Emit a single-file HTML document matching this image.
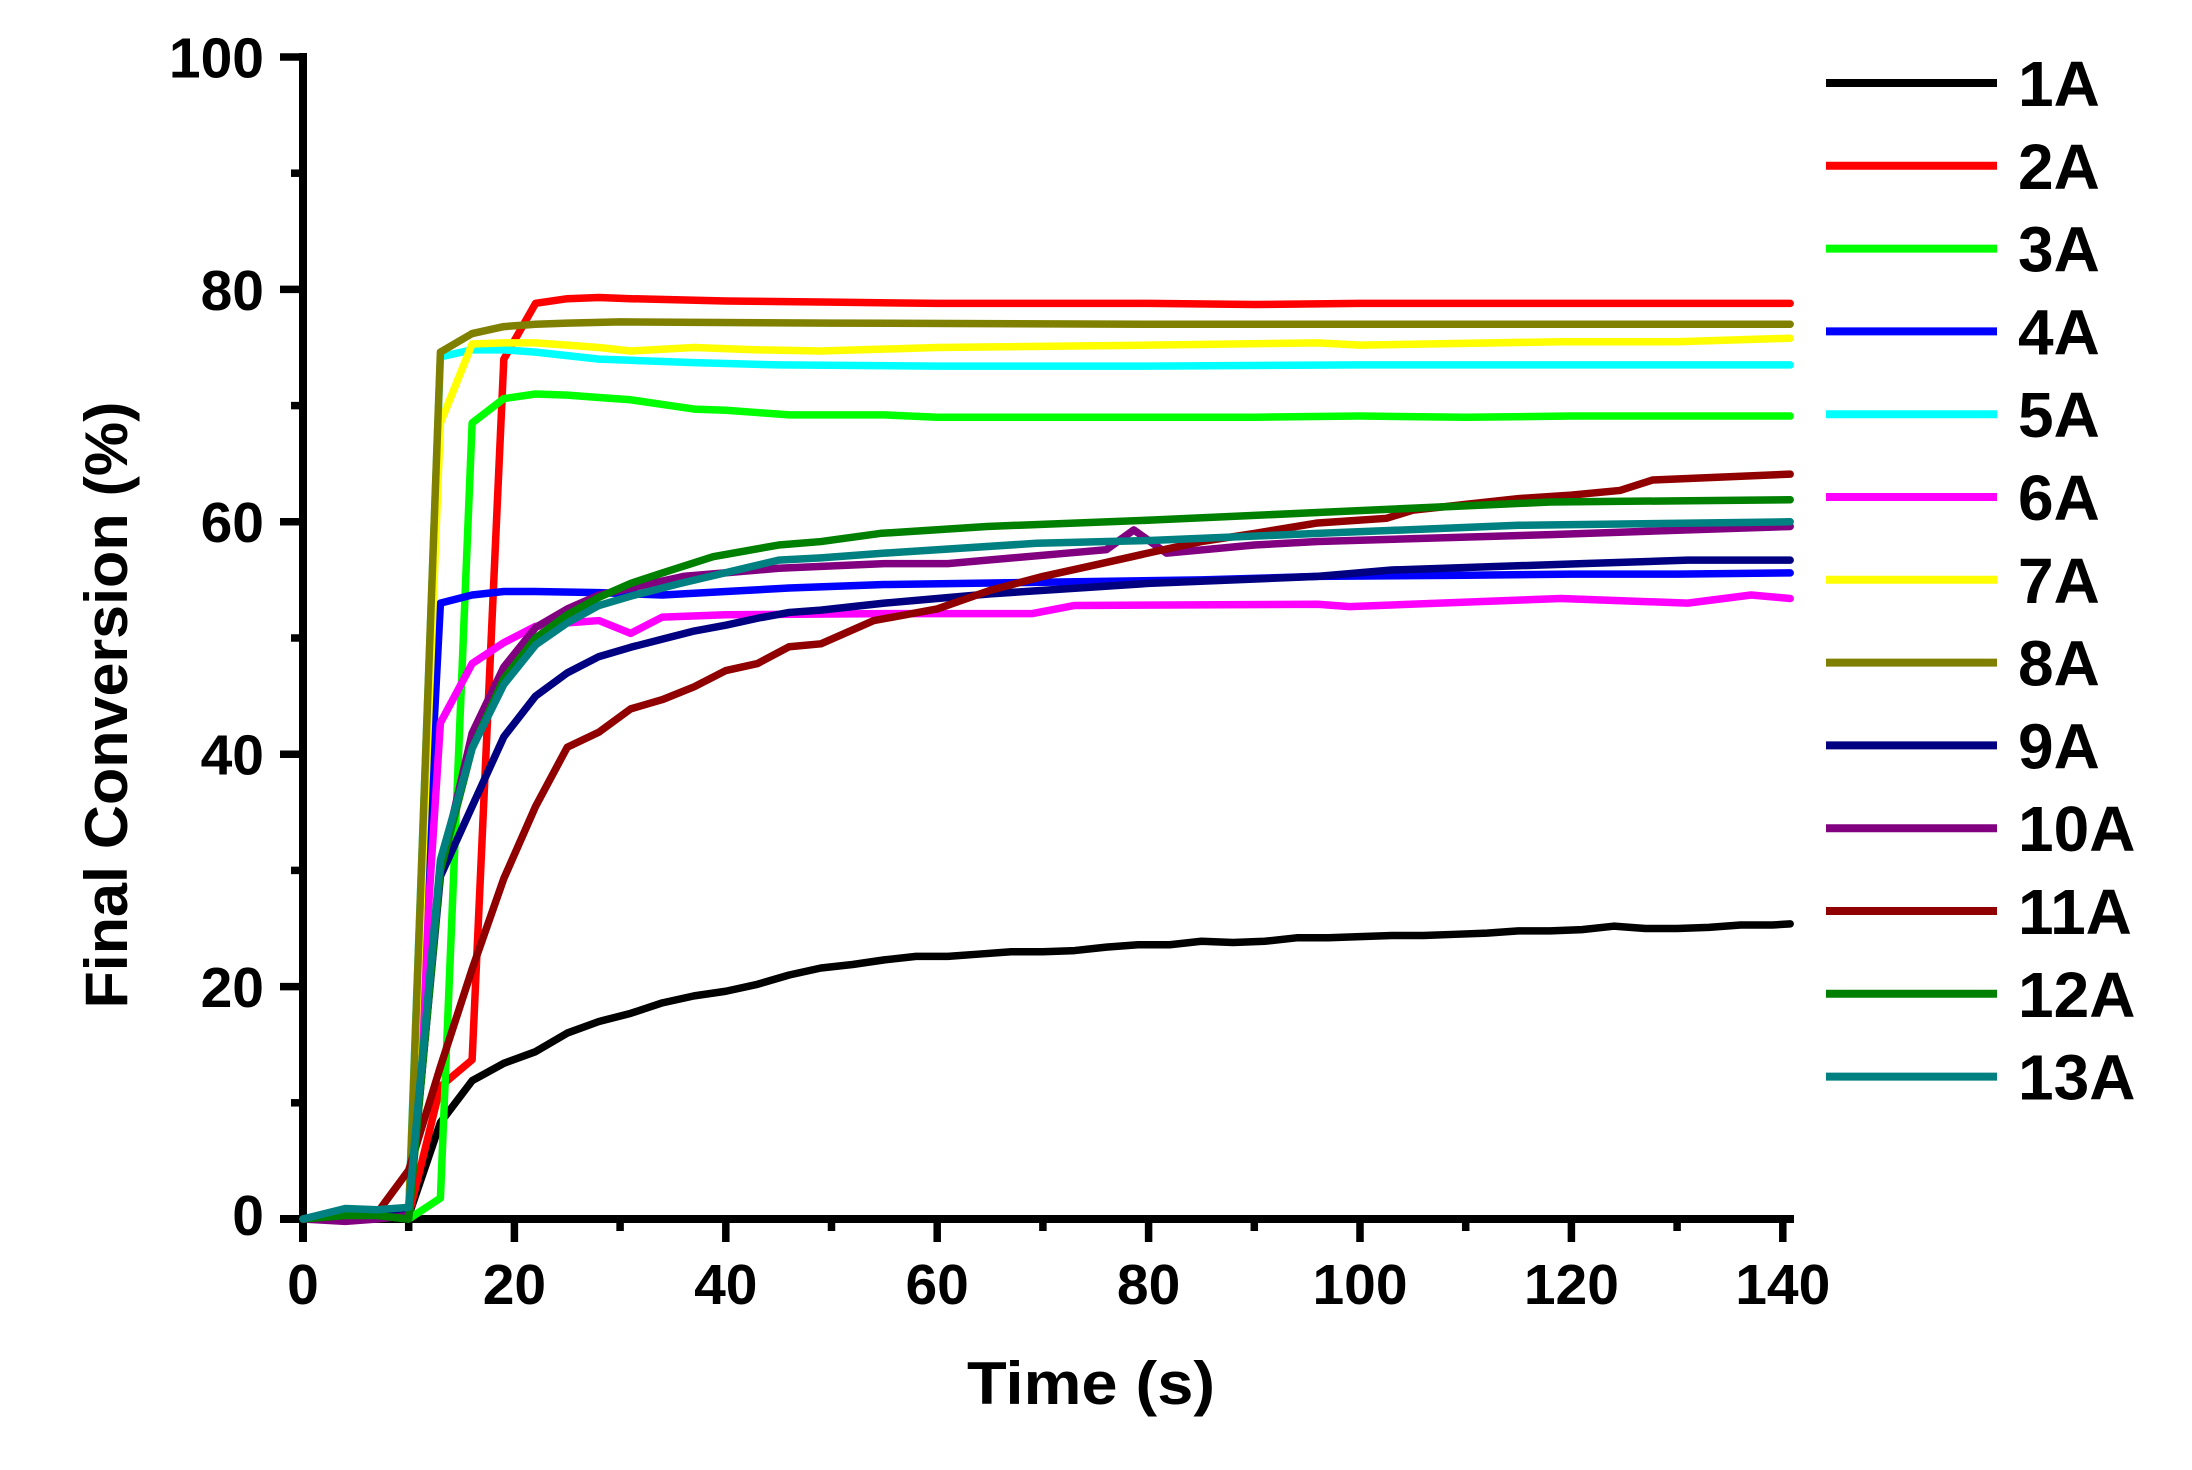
<!DOCTYPE html>
<html>
<head>
<meta charset="utf-8">
<style>
  html, body { margin:0; padding:0; background:#ffffff; }
  svg { display:block; }
  text { font-family: "Liberation Sans", Arial, sans-serif; font-weight: bold; fill:#000; }
</style>
</head>
<body>
<svg width="2192" height="1470" viewBox="0 0 2192 1470" xmlns="http://www.w3.org/2000/svg">
  <rect x="0" y="0" width="2192" height="1470" fill="#ffffff"/>

  <!-- Axes -->
  <g stroke="#000" stroke-width="8" fill="none" stroke-linecap="butt">
    <line x1="303" y1="53" x2="303" y2="1242"/>
    <line x1="280" y1="1219" x2="1794" y2="1219"/>
  </g>
  <!-- Y ticks -->
  <g stroke="#000" stroke-width="7.5">
    <line x1="280" y1="57" x2="303" y2="57"/>
    <line x1="280" y1="289.4" x2="303" y2="289.4"/>
    <line x1="280" y1="521.8" x2="303" y2="521.8"/>
    <line x1="280" y1="754.2" x2="303" y2="754.2"/>
    <line x1="280" y1="986.6" x2="303" y2="986.6"/>
    <line x1="291" y1="173.2" x2="303" y2="173.2"/>
    <line x1="291" y1="405.6" x2="303" y2="405.6"/>
    <line x1="291" y1="638" x2="303" y2="638"/>
    <line x1="291" y1="870.4" x2="303" y2="870.4"/>
    <line x1="291" y1="1102.8" x2="303" y2="1102.8"/>
  </g>
  <!-- X ticks -->
  <g stroke="#000" stroke-width="7.5">
    <line x1="514.4" y1="1219" x2="514.4" y2="1242"/>
    <line x1="725.8" y1="1219" x2="725.8" y2="1242"/>
    <line x1="937.2" y1="1219" x2="937.2" y2="1242"/>
    <line x1="1148.6" y1="1219" x2="1148.6" y2="1242"/>
    <line x1="1360" y1="1219" x2="1360" y2="1242"/>
    <line x1="1571.4" y1="1219" x2="1571.4" y2="1242"/>
    <line x1="1782.8" y1="1219" x2="1782.8" y2="1242"/>
    <line x1="408.7" y1="1219" x2="408.7" y2="1231"/>
    <line x1="620.1" y1="1219" x2="620.1" y2="1231"/>
    <line x1="831.5" y1="1219" x2="831.5" y2="1231"/>
    <line x1="1042.9" y1="1219" x2="1042.9" y2="1231"/>
    <line x1="1254.3" y1="1219" x2="1254.3" y2="1231"/>
    <line x1="1465.7" y1="1219" x2="1465.7" y2="1231"/>
    <line x1="1677.1" y1="1219" x2="1677.1" y2="1231"/>
  </g>

  <!-- Y tick labels -->
  <g font-size="57" text-anchor="end">
    <text x="264" y="1235">0</text>
    <text x="264" y="1007">20</text>
    <text x="264" y="774.5">40</text>
    <text x="264" y="542">60</text>
    <text x="264" y="310">80</text>
    <text x="264" y="77.5">100</text>
  </g>
  <!-- X tick labels -->
  <g font-size="57" text-anchor="middle">
    <text x="303" y="1304">0</text>
    <text x="514.4" y="1304">20</text>
    <text x="725.8" y="1304">40</text>
    <text x="937.2" y="1304">60</text>
    <text x="1148.6" y="1304">80</text>
    <text x="1360" y="1304">100</text>
    <text x="1571.4" y="1304">120</text>
    <text x="1782.8" y="1304">140</text>
  </g>

  <!-- Axis titles -->
  <text x="1091" y="1404" font-size="60" text-anchor="middle" textLength="248" lengthAdjust="spacingAndGlyphs">Time (s)</text>
  <text transform="translate(127,705) rotate(-90)" font-size="60" text-anchor="middle" textLength="607" lengthAdjust="spacingAndGlyphs">Final Conversion (%)</text>

  <!-- Series -->
  <g transform="matrix(10.57 0 0 -11.62 303 1219)" fill="none" stroke-width="7.5" stroke-linejoin="round" stroke-linecap="round">
    <polyline vector-effect="non-scaling-stroke" stroke="#000000" points="0,0 4,0.5 7,0.3 10,0.3 13,8.3 16,11.9 19,13.4 22,14.4 25,16.0 28,17.0 31,17.7 34,18.6 37,19.2 40,19.6 43,20.2 46,21.0 49,21.6 52,21.9 55,22.3 58,22.6 61,22.6 64,22.8 67,23.0 70,23.0 73,23.1 76,23.4 79,23.6 82,23.6 85,23.9 88,23.8 91,23.9 94,24.2 97,24.2 100,24.3 103,24.4 106,24.4 109,24.5 112,24.6 115,24.8 118,24.8 121,24.9 124,25.2 127,25.0 130,25.0 133,25.1 136,25.3 139,25.3 140.7,25.4"/>
    <polyline vector-effect="non-scaling-stroke" stroke="#ff0000" points="0,0 4,0.5 7,0.3 10,0.3 13,11.4 16,13.7 19,74 22,78.8 25,79.2 28,79.3 31,79.2 40,79.0 50,78.9 60,78.8 80,78.8 90,78.7 100,78.8 120,78.8 140.7,78.8"/>
    <polyline vector-effect="non-scaling-stroke" stroke="#00ff00" points="0,0 4,0.3 7,0.3 10,0 13,1.8 16,68.5 19,70.6 22,71.0 25,70.9 28,70.7 31,70.5 34,70.1 37,69.7 40,69.6 43,69.4 46,69.2 55,69.2 60,69.0 70,69.0 80,69.0 90,69.0 100,69.1 110,69.0 120,69.1 130,69.1 140.7,69.1"/>
    <polyline vector-effect="non-scaling-stroke" stroke="#0000ff" points="0,0 4,0.8 7,0.8 10,0.8 13,53.0 16,53.7 19,54.0 22,54.0 28,53.9 34,53.7 40,54.0 46,54.3 55,54.6 70,54.8 85,55.0 96,55.3 110,55.4 120,55.5 130,55.5 140.7,55.6"/>
    <polyline vector-effect="non-scaling-stroke" stroke="#00ffff" points="0,0 4,0.8 7,0.8 10,0.8 13,74.2 16,74.8 19,74.8 22,74.6 25,74.3 28,74.0 31,73.9 37,73.7 45,73.5 60,73.4 80,73.4 100,73.5 120,73.5 140.7,73.5"/>
    <polyline vector-effect="non-scaling-stroke" stroke="#ff00ff" points="0,0 4,0.3 7,0.3 10,0.3 13,42.7 16,47.8 19,49.6 22,51.0 25,51.3 28,51.5 31,50.4 34,51.8 40,52.0 55,52.1 69,52.1 73,52.8 96,52.9 99,52.7 119,53.4 131,53.0 137,53.7 140.7,53.4"/>
    <polyline vector-effect="non-scaling-stroke" stroke="#ffff00" points="0,0 4,0.3 7,0.3 10,0.3 13,68.5 16,75.3 19,75.4 22,75.4 25,75.2 28,75.0 31,74.7 37,75.0 43,74.8 49,74.7 60,75.0 80,75.2 96,75.4 100,75.2 119,75.5 130,75.5 140.7,75.8"/>
    <polyline vector-effect="non-scaling-stroke" stroke="#808000" points="0,0 4,0.3 7,0.3 10,0.3 13,74.6 16,76.2 19,76.8 22,77.0 25,77.1 30,77.2 50,77.1 80,77.0 100,77.0 140.7,77.0"/>
    <polyline vector-effect="non-scaling-stroke" stroke="#000080" points="0,0 4,0.5 7,0.5 10,0.5 13,29.5 16,35.5 19,41.5 22,45.0 25,47.0 28,48.4 31,49.2 34,49.9 37,50.6 40,51.1 43,51.7 46,52.2 49,52.4 55,53.0 65,53.8 80,54.7 96,55.3 103,55.85 121,56.4 131,56.7 140.7,56.7"/>
    <polyline vector-effect="non-scaling-stroke" stroke="#800080" points="0,0 4,-0.2 7,0 10,0.3 13,30 16,41.8 19,47.5 22,50.9 25,52.5 28,53.7 31,54.3 36,55.3 45,56.0 55,56.4 61,56.4 76,57.6 78.6,59.3 81.7,57.3 90,58.0 96,58.3 118,58.9 140.7,59.6"/>
    <polyline vector-effect="non-scaling-stroke" stroke="#900000" points="0,0 4,0.3 7,0.5 10,4.2 13,13.1 16,21.5 19,29.3 22,35.5 25,40.6 28,41.9 31,43.9 34,44.7 37,45.8 40,47.2 43,47.8 46,49.25 49,49.5 54,51.5 60,52.5 65,54.1 70,55.3 75,56.3 80.4,57.4 85,58.3 90,59.0 96,59.9 102.5,60.3 105,61.0 110,61.5 115,62.0 120,62.3 124.6,62.7 127.7,63.6 133,63.8 140.7,64.1"/>
    <polyline vector-effect="non-scaling-stroke" stroke="#008000" points="0,0 4,0.3 7,0.3 10,0 13,30 16,40.5 19,46.5 22,50.0 25,52.0 28,53.5 31,54.7 34,55.6 38.8,57.0 45,58.0 49,58.3 54.6,59.0 64.7,59.6 80.4,60.15 96,60.8 118,61.7 140.7,61.9"/>
    <polyline vector-effect="non-scaling-stroke" stroke="#008080" points="0,0 4,0.9 7,0.8 10,1.0 13,30.9 16,40.5 19,46 22,49.4 25,51.3 28,52.8 31,53.6 35.7,54.7 45,56.7 49,56.9 55,57.3 69.4,58.15 80.4,58.4 96,59.0 115,59.7 140.7,60.0"/>
  </g>

  <!-- Legend -->
  <g stroke-width="8">
    <line x1="1826" y1="83" x2="1997" y2="83" stroke="#000000"/>
    <line x1="1826" y1="165.8" x2="1997" y2="165.8" stroke="#ff0000"/>
    <line x1="1826" y1="248.6" x2="1997" y2="248.6" stroke="#00ff00"/>
    <line x1="1826" y1="331.4" x2="1997" y2="331.4" stroke="#0000ff"/>
    <line x1="1826" y1="414.2" x2="1997" y2="414.2" stroke="#00ffff"/>
    <line x1="1826" y1="497" x2="1997" y2="497" stroke="#ff00ff"/>
    <line x1="1826" y1="579.8" x2="1997" y2="579.8" stroke="#ffff00"/>
    <line x1="1826" y1="662.6" x2="1997" y2="662.6" stroke="#808000"/>
    <line x1="1826" y1="745.4" x2="1997" y2="745.4" stroke="#000080"/>
    <line x1="1826" y1="828.2" x2="1997" y2="828.2" stroke="#800080"/>
    <line x1="1826" y1="911" x2="1997" y2="911" stroke="#900000"/>
    <line x1="1826" y1="993.8" x2="1997" y2="993.8" stroke="#008000"/>
    <line x1="1826" y1="1076.6" x2="1997" y2="1076.6" stroke="#008080"/>
  </g>
  <g font-size="64">
    <text x="2018" y="106">1A</text>
    <text x="2018" y="188.8">2A</text>
    <text x="2018" y="271.6">3A</text>
    <text x="2018" y="354.4">4A</text>
    <text x="2018" y="437.2">5A</text>
    <text x="2018" y="520">6A</text>
    <text x="2018" y="602.8">7A</text>
    <text x="2018" y="685.6">8A</text>
    <text x="2018" y="768.4">9A</text>
    <text x="2018" y="851.2">10A</text>
    <text x="2018" y="934">11A</text>
    <text x="2018" y="1016.8">12A</text>
    <text x="2018" y="1099.6">13A</text>
  </g>
</svg>
</body>
</html>
